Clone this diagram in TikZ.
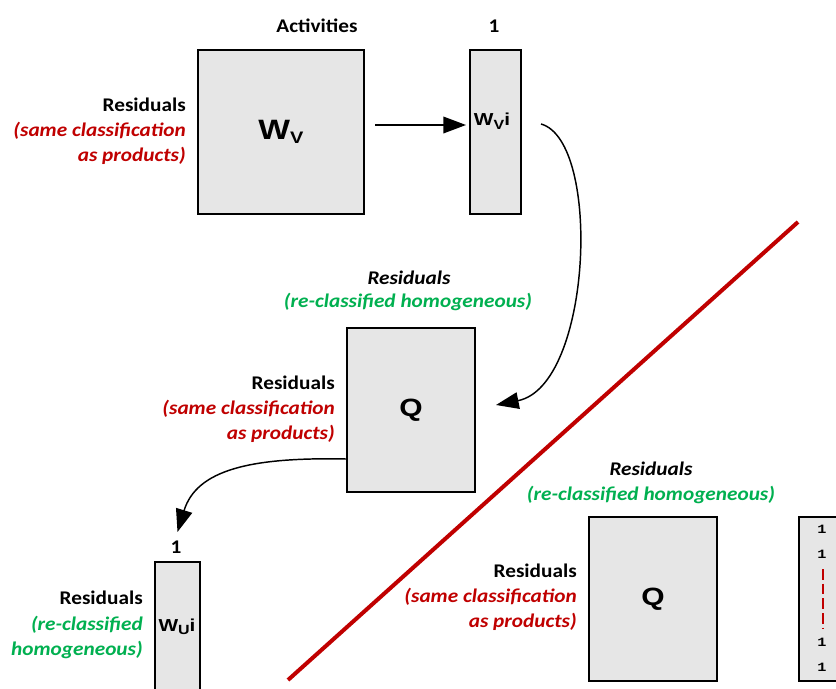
\documentclass[tikz,border=0pt]{standalone}
\usepackage{fontspec}
\setmainfont{Carlito}[FakeStretch=1.1]
\newfontfamily\arialf{Liberation Sans}[FakeStretch=1.2]
\newfontfamily\monof{Liberation Mono}[FakeStretch=1.2]
\usetikzlibrary{arrows.meta,calc}
\definecolor{dred}{HTML}{C00000}
\definecolor{dgreen}{HTML}{00B050}
\definecolor{boxgray}{HTML}{E6E6E6}
\newcommand\lblfont{\fontsize{14.5}{18.9}\selectfont\bfseries}
\newcommand\bigWV{{\arialf\bfseries\fontsize{21}{21}\selectfont W\raisebox{-0.15em}{\fontsize{12.5}{12.5}\selectfont V}}}
\newcommand\smallW[1]{{\arialf\bfseries\fontsize{13}{13}\selectfont W\raisebox{-0.2em}{\fontsize{10}{10}\selectfont #1}i}}
\newcommand\bigQ{{\arialf\bfseries\fontsize{18.75}{18.75}\selectfont Q}}
\begin{document}
\begin{tikzpicture}[x=0.75pt,y=-0.75pt,
  box/.style={draw=black,fill=boxgray,line width=1.5pt,inner sep=0pt,anchor=north west},
  lbl/.style={font=\lblfont,align=right,anchor=east,inner sep=0pt},
  hdr/.style={font=\lblfont,inner sep=0pt},
  ital/.style={font=\lblfont\itshape,inner sep=0pt},
  conn/.style={line width=1.1pt,-{Triangle[length=17pt,width=12.5pt]}},
  num/.style={font=\monof\bfseries\fontsize{9.5}{9.5}\selectfont,inner sep=0pt},
]
\useasboundingbox (0,0) rectangle (836,689);
\clip (0,0) rectangle (836,689);
\fill[white] (0,0) rectangle (836,689);

% top row
\node[hdr] (act) at (317,26) {Activities};
\node[hdr] (one1) at (494,26) {1};
\node[box,minimum width=166*0.75pt,minimum height=164*0.75pt] (wv) at (197,49) {\bigWV};
\node[box,minimum width=51*0.75pt,minimum height=164*0.75pt] (wvi) at (469,49) {};
\node[inner sep=0pt] (wvit) at (492,121) {\smallW{V}};
\node[lbl] (lab1) at (186,131) {Residuals\\{\color{dred}\itshape (same classification}\\{\color{dred}\itshape as products)}};
\draw[conn] ($(wv.east)+(10,-7)$) -- ($(wvi.west)+(-3,-7)$);

% middle Q
\node[ital] (r2) at (409,278) {Residuals};
\node[ital,text=dgreen] (g2) at (408,302) {(re-classified homogeneous)};
\node[box,minimum width=128*0.75pt,minimum height=164*0.75pt] (q1) at (346,327) {\bigQ};
\node[lbl] (lab2) at (335,409) {Residuals\\{\color{dred}\itshape (same classification}\\{\color{dred}\itshape as products)}};
\draw[conn] ($(wvi.east)+(19,-8)$) .. controls +(61,17) and +(96,-19) .. ($(q1.east)+(20,-5)$);

% bottom left
\node[box,minimum width=45*0.75pt,minimum height=140*0.75pt] (wui) at (154,561) {};
\node[inner sep=0pt] (wuit) at (177,627) {\smallW{U}};
\node[hdr] (one2) at (176,547) {1};
\node[lbl] (lab3) at (143,625) {Residuals\\{\color{dgreen}\itshape (re-classified}\\{\color{dgreen}\itshape homogeneous)}};
\draw[conn] ($(q1.west)+(0,49)$) .. controls +(-96,-2) and +(19,-62) .. ($(wui.north)+(0,-29)$);

% red divider
\coordinate (ra) at (288,680);
\coordinate (rb) at (798,222);
\draw[dred,line width=3pt] (ra) -- (rb);

% bottom right
\node[ital] (r4) at (651,469) {Residuals};
\node[ital,text=dgreen] (g4) at (651,495) {(re-classified homogeneous)};
\node[box,minimum width=128*0.75pt,minimum height=164*0.75pt] (q2) at (588,516) {\bigQ};
\node[lbl] (lab4) at (577,597) {Residuals\\{\color{dred}\itshape (same classification}\\{\color{dred}\itshape as products)}};
\node[box,minimum width=50*0.75pt,minimum height=164*0.75pt] (col) at (798,516) {};
\node[num] (n1) at (822,529) {1};
\node[num] (n2) at (822,554) {1};
\node[num] (n3) at (822,642) {1};
\node[num] (n4) at (822,667) {1};
\coordinate (da) at (823,569);
\coordinate (db) at (823,628);
\draw[dred,line width=1pt,dash pattern=on 8pt off 3pt] (da) -- (db);
\end{tikzpicture}
\end{document}
